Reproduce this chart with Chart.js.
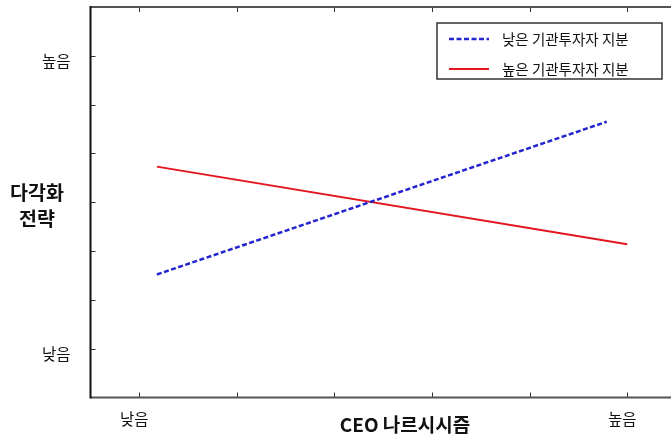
<!DOCTYPE html>
<html>
<head>
<meta charset="utf-8">
<script src="https://cdn.jsdelivr.net/npm/chart.js@4/dist/chart.umd.min.js"></script>
<style>
  html, body { margin: 0; padding: 0; background: #fff; overflow: hidden; }
  #wrap { width: 680px; height: 444px; }
</style>
</head>
<body>
<div id="wrap"><canvas id="c" width="680" height="444"></canvas></div>
<script>
// ---- data ----
const seriesNames = ['낮은 기관투자자 지분', '높은 기관투자자 지분'];
const lowInstX = [1.18, 5.79];
const lowInstY = [2.52, 5.65];
const highInstX = [1.18, 6.0];
const highInstY = [4.73, 3.14];

const xTickValues = [1, 2, 3, 4, 5, 6];
const xTickLabels = ['낮음', '', '', '', '', '높음'];
const yTickValues = [1, 2, 3, 4, 5, 6, 7];
const yTickLabels = ['낮음', '', '', '', '', '', '높음'];

const xTitle = 'CEO 나르시시즘';
const yTitleLines = ['다각화', '전략'];

const FONT = '"Noto Sans CJK KR", "Noto Sans", sans-serif';

function toPoints(xs, ys) { return xs.map((x, i) => ({ x: x, y: ys[i] })); }

const framePlugin = {
  id: 'frame',
  afterDatasetsDraw(chart) {
    const ctx = chart.ctx;
    const a = chart.chartArea;
    const xs = chart.scales.x, ys = chart.scales.y;
    ctx.save();
    // inward tick marks
    ctx.strokeStyle = '#333';
    ctx.lineWidth = 1;
    const tl = 5;
    xTickValues.forEach(v => {
      const px = Math.round(xs.getPixelForValue(v)) + 0.5;
      ctx.beginPath();
      ctx.moveTo(px, a.bottom); ctx.lineTo(px, a.bottom - tl);
      ctx.moveTo(px, a.top); ctx.lineTo(px, a.top + tl);
      ctx.stroke();
    });
    yTickValues.forEach(v => {
      const py = Math.round(ys.getPixelForValue(v)) + 0.5;
      ctx.beginPath();
      ctx.moveTo(a.left, py); ctx.lineTo(a.left + tl, py);
      ctx.moveTo(a.right, py); ctx.lineTo(a.right - tl, py);
      ctx.stroke();
    });
    // frame
    ctx.lineWidth = 2;
    ctx.strokeStyle = '#555';
    ctx.beginPath();
    ctx.moveTo(a.left, a.top); ctx.lineTo(a.right, a.top);
    ctx.moveTo(a.left, a.bottom); ctx.lineTo(a.right, a.bottom);
    ctx.moveTo(a.right, a.top); ctx.lineTo(a.right, a.bottom);
    ctx.stroke();
    ctx.strokeStyle = '#111';
    ctx.beginPath();
    ctx.moveTo(a.left, a.top - 1); ctx.lineTo(a.left, a.bottom + 1);
    ctx.stroke();

    // legend box
    const lx = 437, ly = 23, lw = 225, lh = 56;
    ctx.fillStyle = '#fff';
    ctx.fillRect(lx, ly, lw, lh);
    ctx.lineWidth = 1.5;
    ctx.strokeStyle = '#333';
    ctx.strokeRect(lx, ly, lw, lh);
    const rows = [39, 69];
    chart.data.datasets.forEach((ds, i) => {
      const y = rows[i];
      ctx.strokeStyle = ds.borderColor;
      ctx.lineWidth = ds.borderWidth;
      ctx.setLineDash(ds.borderDash || []);
      ctx.beginPath();
      ctx.moveTo(449, y); ctx.lineTo(489, y);
      ctx.stroke();
      ctx.setLineDash([]);
      ctx.fillStyle = '#111';
      ctx.font = '14.5px ' + FONT;
      ctx.textAlign = 'left';
      ctx.textBaseline = 'middle';
      ctx.fillText(ds.label, 502, y);
    });

    // axis titles
    ctx.fillStyle = '#111';
    ctx.font = 'bold 19px ' + FONT;
    ctx.textAlign = 'center';
    ctx.textBaseline = 'middle';
    ctx.fillText(xTitle, 405, 425);
    ctx.font = 'bold 19.5px ' + FONT;
    ctx.fillText(yTitleLines[0], 37, 193);
    ctx.fillText(yTitleLines[1], 37, 219);
    ctx.restore();
  }
};

new Chart(document.getElementById('c'), {
  type: 'line',
  data: {
    datasets: [
      {
        label: seriesNames[0],
        data: toPoints(lowInstX, lowInstY),
        borderColor: '#2424d0',
        borderWidth: 2.5,
        borderDash: [5, 2.5],
        pointRadius: 0,
        tension: 0,
        fill: false
      },
      {
        label: seriesNames[1],
        data: toPoints(highInstX, highInstY),
        borderColor: '#e3151f',
        borderWidth: 2,
        pointRadius: 0,
        tension: 0,
        fill: false
      }
    ]
  },
  options: {
    responsive: false,
    animation: false,
    devicePixelRatio: 1,
    layout: { padding: { top: 7, right: 4, left: 0, bottom: 0 } },
    plugins: { legend: { display: false }, tooltip: { enabled: false } },
    scales: {
      x: {
        type: 'linear',
        min: 0.5,
        max: 6.5,
        afterBuildTicks: s => { s.ticks = xTickValues.map(v => ({ value: v })); },
        afterFit: s => { s.height = 46.5; s.paddingLeft = 0; s.paddingRight = 0; s.paddingTop = 0; s.paddingBottom = 0; },
        grid: { display: false },
        border: { display: false },
        ticks: {
          autoSkip: false,
          maxRotation: 0,
          padding: 4,
          labelOffset: -5,
          color: '#111',
          font: { size: 15.5, family: FONT },
          callback: v => { const i = xTickValues.indexOf(v); return i >= 0 ? xTickLabels[i] : ''; }
        }
      },
      y: {
        type: 'linear',
        min: 0,
        max: 8,
        afterBuildTicks: s => { s.ticks = yTickValues.map(v => ({ value: v })); },
        afterFit: s => { s.width = 90.5; s.paddingLeft = 0; s.paddingRight = 0; s.paddingTop = 0; s.paddingBottom = 0; },
        grid: { display: false },
        border: { display: false },
        ticks: {
          autoSkip: false,
          padding: 12,
          labelOffset: 5.5,
          color: '#111',
          font: { size: 15.5, family: FONT },
          callback: v => { const i = yTickValues.indexOf(v); return i >= 0 ? yTickLabels[i] : ''; }
        }
      }
    }
  },
  plugins: [framePlugin]
});
</script>
</body>
</html>
